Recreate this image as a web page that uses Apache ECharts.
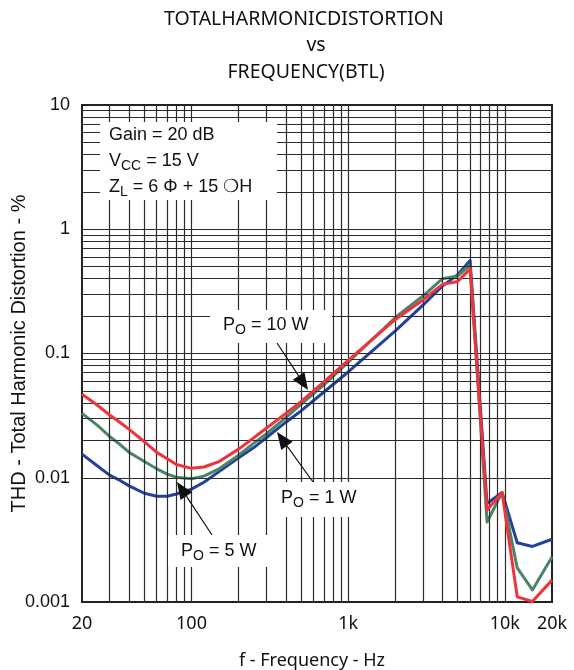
<!DOCTYPE html>
<html>
<head>
<meta charset="utf-8">
<script src="https://cdn.jsdelivr.net/npm/echarts@6/dist/echarts.min.js"></script>
<style>
  html, body { margin: 0; padding: 0; background: #fff; }
  #main { width: 574px; height: 670px; }
</style>
</head>
<body>
<div id="main"></div>
<script>
// frequency points (Hz)
var freq = [20, 25, 30, 35, 40, 50, 60, 70, 80, 100, 120, 150, 200, 250, 300, 400, 500, 700, 1000,
  2000, 3000, 4000, 5000, 6000, 7700, 9600, 12000, 15000, 20000];
// THD (%) per output power
var thd1W = [0.0155, 0.0125, 0.0105, 0.0095, 0.0086, 0.0075, 0.0071, 0.0071, 0.0074, 0.0081, 0.0092,
  0.0112, 0.0145, 0.0175, 0.021, 0.028, 0.0345, 0.049, 0.071,
  0.152, 0.245, 0.35, 0.43, 0.56, 0.0062, 0.0076, 0.0030, 0.0028, 0.0032];
var thd5W = [0.033, 0.0265, 0.0215, 0.0185, 0.016, 0.0135, 0.0118, 0.0107, 0.0101, 0.0098, 0.0103,
  0.0118, 0.0152, 0.019, 0.0225, 0.0305, 0.039, 0.056, 0.085,
  0.195, 0.29, 0.40, 0.42, 0.52, 0.0044, 0.0076, 0.00188, 0.00125, 0.0023];
var thd10W = [0.047, 0.0385, 0.032, 0.0278, 0.0245, 0.0195, 0.016, 0.0142, 0.0128, 0.0119, 0.0122,
  0.0135, 0.017, 0.021, 0.025, 0.033, 0.041, 0.059, 0.088,
  0.188, 0.27, 0.36, 0.38, 0.48, 0.0055, 0.0076, 0.0011, 0.00101, 0.0015];

var xTickValues = [20, 100, 1000, 10000, 20000];
var xTickLabels = ['20', '100', '1k', '10k', '20k'];
var yTickLabels = ['0.001', '0.01', '0.1', '1', '10'];

// grid lines (log paper)
var xGridLines = [30, 40, 50, 60, 70, 80, 90, 100, 200, 300, 400, 500, 600, 700, 800, 900,
  1000, 2000, 3000, 4000, 5000, 6000, 7000, 8000, 9000, 10000];
var yGridLines = [];
[0.001, 0.01, 0.1, 1].forEach(function (d) {
  for (var m = 1; m <= 9; m++) {
    if (d * m > 0.001) yGridLines.push(+(d * m).toPrecision(3));
  }
});

function pairs(ys) {
  return freq.map(function (f, i) { return [f, ys[i]]; });
}

var measureCtx = document.createElement('canvas').getContext('2d');
function textW(str, font) {
  measureCtx.font = font;
  return measureCtx.measureText(str).width;
}

var ARIAL = '"Liberation Sans", Arial, sans-serif';
var NOTO = '"Noto Sans", sans-serif';

// text with subscript parts, built from pieces
function subText(x, y, parts) {
  var out = [];
  var cx = x;
  parts.forEach(function (p) {
    var font = p.size + 'px ' + ARIAL;
    out.push({
      type: 'text', z: 101, x: cx, y: y + (p.dy || 0),
      style: { text: p.t, font: font, fill: '#111', verticalAlign: 'middle', align: 'left' }
    });
    cx += textW(p.t, p.size + 'px "Liberation Sans"');
  });
  return out;
}

function arrow(x1, y1, x2, y2) {
  var ang = Math.atan2(y2 - y1, x2 - x1);
  var len = 17, half = 7;
  var bx = x2 - len * Math.cos(ang), by = y2 - len * Math.sin(ang);
  var px = -Math.sin(ang) * half, py = Math.cos(ang) * half;
  return [
    { type: 'line', z: 101, shape: { x1: x1, y1: y1, x2: bx, y2: by }, style: { stroke: '#111', lineWidth: 1.2 } },
    { type: 'polygon', z: 101, shape: { points: [[x2, y2], [bx + px, by + py], [bx - px, by - py]] }, style: { fill: '#111' } }
  ];
}

function box(x, y, w, h) {
  return { type: 'rect', z: 100, shape: { x: x, y: y, width: w, height: h }, style: { fill: '#fff' } };
}

var chart = echarts.init(document.getElementById('main'));

var titleStyle = { fontFamily: NOTO, fontSize: 19.5, fontWeight: 'normal', color: '#111' };

var option = {
  backgroundColor: '#fff',
  animation: false,
  title: [
    { text: 'TOTALHARMONICDISTORTION', left: 299, top: 4, textAlign: 'center', textStyle: titleStyle },
    { text: 'vs', left: 311, top: 30, textAlign: 'center', textStyle: titleStyle },
    { text: 'FREQUENCY(BTL)', left: 301, top: 57, textAlign: 'center', textStyle: titleStyle }
  ],
  grid: {
    left: 82, right: 22, top: 105, bottom: 68,
    outerBoundsMode: 'none',
    containLabel: false,
    show: true, borderColor: '#222', borderWidth: 2, backgroundColor: '#fff'
  },
  xAxis: {
    type: 'log',
    logBase: 10,
    min: 20,
    max: 20000,
    name: 'f - Frequency - Hz',
    nameLocation: 'middle',
    nameGap: 50,
    nameMoveOverlap: false,
    nameTextStyle: { fontFamily: NOTO, fontSize: 18, color: '#111', padding: [0, 10, 0, 0] },
    axisLine: { show: false },
    axisTick: { show: false },
    splitLine: { show: false },
    axisLabel: {
      margin: 13,
      fontFamily: NOTO,
      fontSize: 18,
      color: '#111',
      showMinLabel: true,
      showMaxLabel: true,
      formatter: function (v) {
        for (var i = 0; i < xTickValues.length; i++) {
          if (Math.abs(Math.log10(v) - Math.log10(xTickValues[i])) < 0.01) return xTickLabels[i];
        }
        return '';
      }
    }
  },
  yAxis: {
    type: 'log',
    logBase: 10,
    min: 0.001,
    max: 10,
    name: 'THD - Total Harmonic Distortion - %',
    nameLocation: 'middle',
    nameGap: 53,
    nameRotate: 90,
    nameMoveOverlap: false,
    nameTextStyle: { fontFamily: ARIAL, fontSize: 20, color: '#111' },
    axisLine: { show: false },
    axisTick: { show: false },
    splitLine: { show: false },
    axisLabel: {
      margin: 12,
      fontFamily: ARIAL,
      fontSize: 18,
      color: '#111',
      formatter: function (v) {
        var k = Math.round(Math.log10(v)) + 3;
        return yTickLabels[k] || '';
      }
    }
  },
  series: [
    {
      type: 'line',
      name: 'grid',
      data: [],
      z: 1,
      silent: true,
      markLine: {
        silent: true,
        symbol: 'none',
        animation: false,
        label: { show: false },
        lineStyle: { color: '#2a2a2a', width: 1.2, type: 'solid' },
        data: xGridLines.map(function (v) { return { xAxis: v }; })
          .concat(yGridLines.map(function (v) { return { yAxis: v }; }))
      }
    },
    {
      type: 'line', name: 'PO = 1 W', data: pairs(thd1W), z: 3,
      showSymbol: false, smooth: false,
      lineStyle: { color: '#22439c', width: 3, join: 'round' }
    },
    {
      type: 'line', name: 'PO = 5 W', data: pairs(thd5W), z: 4,
      showSymbol: false, smooth: false,
      lineStyle: { color: '#4b8466', width: 3, join: 'round' }
    },
    {
      type: 'line', name: 'PO = 10 W', data: pairs(thd10W), z: 5,
      showSymbol: false, smooth: false,
      lineStyle: { color: '#f0323c', width: 3, join: 'round' }
    }
  ]
};

chart.setOption(option);

// annotations
var g = [];
// condition box
g.push(box(100, 122, 177, 78));
g = g.concat(subText(109, 135, [{ t: 'Gain = 20 dB', size: 18 }]));
g = g.concat(subText(109, 161, [{ t: 'V', size: 18 }, { t: 'CC', size: 14, dy: 5 }, { t: ' = 15 V', size: 18 }]));
g = g.concat(subText(109, 187, [{ t: 'Z', size: 18 }, { t: 'L', size: 14, dy: 5 }, { t: ' = 6 \u03A6 + 15 \u274DH', size: 18 }]));

// PO = 10 W
g.push(box(210, 310, 122, 33));
g = g.concat(subText(223, 325, [{ t: 'P', size: 18 }, { t: 'O', size: 14, dy: 5 }, { t: ' = 10 W', size: 18 }]));
g = g.concat(arrow(277, 343, 308, 390));

// PO = 1 W
g.push(box(268, 482, 115, 35));
g = g.concat(subText(281, 498, [{ t: 'P', size: 18 }, { t: 'O', size: 14, dy: 5 }, { t: ' = 1 W', size: 18 }]));
g = g.concat(arrow(313, 482, 277, 432));

// PO = 5 W
g.push(box(168, 535, 110, 32));
g = g.concat(subText(181, 551, [{ t: 'P', size: 18 }, { t: 'O', size: 14, dy: 5 }, { t: ' = 5 W', size: 18 }]));
g = g.concat(arrow(212, 535, 177, 482));

chart.setOption({ graphic: { elements: g } });
</script>
</body>
</html>
